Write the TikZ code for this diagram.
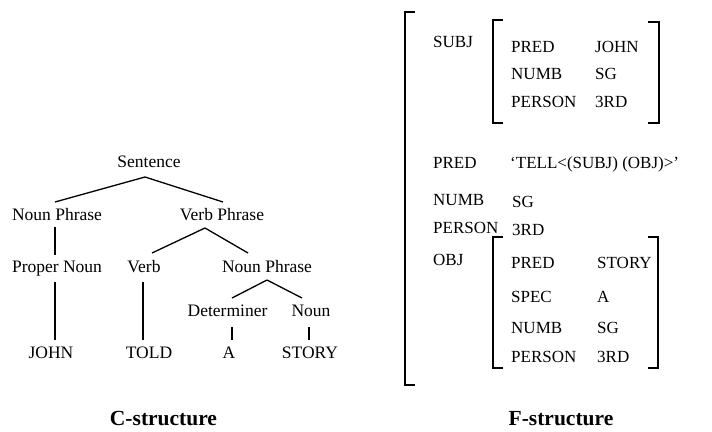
\documentclass[tikz,border=0pt]{standalone}
\usepackage{fontspec}
\setmainfont{Liberation Serif}
\begin{document}
\begin{tikzpicture}[x=1pt,y=-1pt,
  lbl/.style={inner sep=0pt,anchor=base,font=\fontsize{17.5}{20}\selectfont},
  fs/.style={inner sep=0pt,anchor=base west,font=\fontsize{17}{20}\selectfont},
  caption/.style={inner sep=0pt,anchor=base,font=\fontsize{21.5}{24}\selectfont\bfseries},
  edge/.style={line width=1.3pt},
  brk/.style={line width=1.4pt}]
\useasboundingbox (0,0) rectangle (712,431);
% ---- C-structure tree ----
\node[lbl] (s) at (149,167) {Sentence};
\node[lbl] (np1) at (57,220) {Noun Phrase};
\node[lbl] (vp) at (222,220) {Verb Phrase};
\node[lbl] (pn) at (57,272) {Proper Noun};
\node[lbl] (v) at (144,272) {Verb};
\node[lbl] (np2) at (267,272) {Noun Phrase};
\node[lbl] (det) at (227.5,316) {Determiner};
\node[lbl] (n) at (311,316) {Noun};
\node[lbl] (john) at (51,358) {JOHN};
\node[lbl] (told) at (149,358) {TOLD};
\node[lbl] (a) at (229,358) {A};
\node[lbl] (story) at (310,358) {STORY};
\draw[edge] ([shift={(-4,10)}]s.base) -- ([shift={(-2,-18)}]np1.base);
\draw[edge] ([shift={(-4,10)}]s.base) -- ([shift={(1,-18)}]vp.base);
\draw[edge] ([shift={(-2,7)}]np1.base) -- ([shift={(-2,-17)}]pn.base);
\draw[edge] ([shift={(-17,8)}]vp.base) -- ([shift={(8,-19)}]v.base);
\draw[edge] ([shift={(-17,8)}]vp.base) -- ([shift={(-19,-19)}]np2.base);
\draw[edge] ([shift={(-2,10)}]pn.base) -- ([shift={(4,-18)}]john.base);
\draw[edge] ([shift={(-1,10)}]v.base) -- ([shift={(-6,-18)}]told.base);
\draw[edge] ([shift={(0,8)}]np2.base) -- ([shift={(4.5,-18)}]det.base);
\draw[edge] ([shift={(0,8)}]np2.base) -- ([shift={(-9,-18)}]n.base);
\draw[edge] ([shift={(4.5,11)}]det.base) -- ([shift={(3,-18)}]a.base);
\draw[edge] ([shift={(-2,11)}]n.base) -- ([shift={(-1,-18)}]story.base);
\node[caption] (ccap) at (163.5,425) {C-structure};
% ---- F-structure ----
\draw[brk] (415,12) -- (405,12) -- (405,385) -- (415,385);
\draw[brk] (503,20) -- (493,20) -- (493,123) -- (503,123);
\draw[brk] (648,22) -- (659,22) -- (659,123) -- (648,123);
\draw[brk] (503,237) -- (493,237) -- (493,368) -- (503,368);
\draw[brk] (648,237) -- (658,237) -- (658,368) -- (648,368);
\node[fs] (subj) at (433,47) {SUBJ};
\node[fs] (sp) at (511,52) {PRED};
\node[fs] (spv) at (595,52) {JOHN};
\node[fs] (sn) at (511,79) {NUMB};
\node[fs] (snv) at (595,79) {SG};
\node[fs] (spe) at (511,107) {PERSON};
\node[fs] (spev) at (595,107) {3RD};
\node[fs] (pred) at (433,168) {PRED};
\node[fs] (predv) at (510,168) {‘TELL<(SUBJ) (OBJ)>’};
\node[fs] (numb) at (433,205) {NUMB};
\node[fs] (numbv) at (512,207) {SG};
\node[fs] (pers) at (433,233) {PERSON};
\node[fs] (persv) at (512,235) {3RD};
\node[fs] (obj) at (433,265) {OBJ};
\node[fs] (op) at (511,268) {PRED};
\node[fs] (opv) at (597,268) {STORY};
\node[fs] (os) at (511,302) {SPEC};
\node[fs] (osv) at (597,302) {A};
\node[fs] (on) at (511,333) {NUMB};
\node[fs] (onv) at (597,333) {SG};
\node[fs] (ope) at (511,362) {PERSON};
\node[fs] (opev) at (597,362) {3RD};
\node[caption] (fcap) at (561,425) {F-structure};
\end{tikzpicture}
\end{document}
